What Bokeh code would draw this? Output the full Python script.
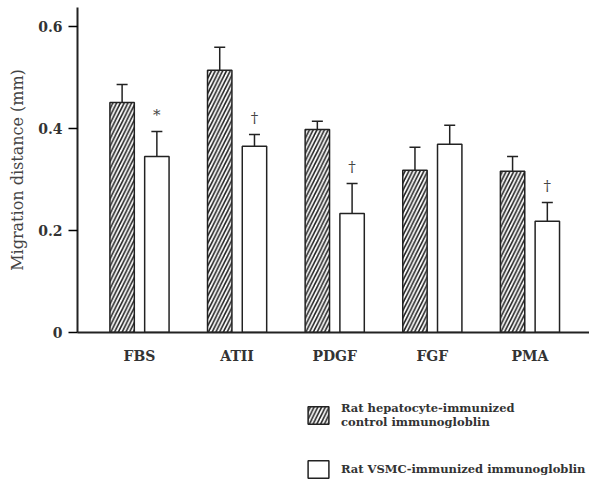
from bokeh.plotting import figure
from bokeh.layouts import column
from bokeh.models import (ColumnDataSource, Whisker, TeeHead, FixedTicker, Legend, LegendItem, Range1d)
from bokeh.core.properties import value
from bokeh.embed import file_html
from bokeh.resources import INLINE

categories = ["FBS", "ATII", "PDGF", "FGF", "PMA"]
control_mean = [0.451, 0.514, 0.398, 0.318, 0.316]
control_err = [0.486, 0.559, 0.414, 0.363, 0.345]
vsmc_mean = [0.345, 0.365, 0.233, 0.369, 0.218]
vsmc_err = [0.394, 0.388, 0.292, 0.406, 0.255]
marks = ["*", "\u2020", "\u2020", "", "\u2020"]
y_ticks = [0, 0.2, 0.4, 0.6]
y_tick_labels = ["0", "0.2", "0.4", "0.6"]
legend_labels = ["Rat hepatocyte-immunized\ncontrol immunogloblin",
                 "Rat VSMC-immunized immunogloblin"]

OFF = 0.178
W = 0.25
INK = "#222222"
idx = list(range(len(categories)))
src_c = ColumnDataSource(dict(x=[i - OFF for i in idx], top=control_mean, up=control_err))
src_v = ColumnDataSource(dict(x=[i + OFF for i in idx], top=vsmc_mean, up=vsmc_err, m=marks,
                              my=[u + 0.014 for u in vsmc_err]))

SERIF = "DejaVu Serif"
HATCH = dict(hatch_pattern="right_diagonal_line", hatch_color=INK, hatch_scale=7.5, hatch_weight=1.6)

p = figure(width=589, height=372, output_backend="svg", toolbar_location=None,
           x_range=Range1d(-0.635, 4.61), y_range=Range1d(0, 0.637),
           min_border_left=77, min_border_right=0, min_border_top=7, min_border_bottom=40)
p.outline_line_color = None
p.grid.visible = False

p.vbar(x="x", top="top", width=W, bottom=0, source=src_c, fill_color="white",
       line_color=INK, line_width=1.5, **HATCH)
p.vbar(x="x", top="top", width=W, bottom=0, source=src_v, fill_color="white",
       line_color=INK, line_width=1.5)

for src in (src_c, src_v):
    w = Whisker(source=src, base="x", lower="top", upper="up", line_color=INK, line_width=1.5,
                upper_head=TeeHead(size=11, line_color=INK, line_width=1.5), lower_head=None)
    p.add_layout(w)

p.text(x="x", y="my", text="m", source=src_v, text_font=value(SERIF), text_font_size="15px",
       text_align="center", text_baseline="bottom", text_color="#444444")

p.yaxis.ticker = FixedTicker(ticks=y_ticks)
p.yaxis.major_label_overrides = {t: l for t, l in zip(y_ticks, y_tick_labels)}
p.yaxis.major_label_text_font = SERIF
p.yaxis.major_label_text_font_style = "bold"
p.yaxis.major_label_text_font_size = "14px"
p.yaxis.major_label_text_color = "#333333"
p.yaxis.major_tick_in = 0
p.yaxis.major_tick_out = 9
p.yaxis.major_tick_line_width = 1.5
p.yaxis.minor_tick_line_color = None
p.yaxis.axis_line_width = 2
p.yaxis.axis_line_color = INK
p.yaxis.axis_label = "Migration distance (mm)"
p.yaxis.axis_label_text_font = SERIF
p.yaxis.axis_label_text_font_style = "normal"
p.yaxis.axis_label_text_font_size = "16px"
p.yaxis.axis_label_text_color = "#444444"
p.yaxis.axis_label_standoff = 8
p.yaxis.major_label_standoff = 6

p.xaxis.ticker = FixedTicker(ticks=idx)
p.xaxis.major_label_overrides = {i: c for i, c in zip(idx, categories)}
p.xaxis.major_label_text_font = SERIF
p.xaxis.major_label_text_font_style = "bold"
p.xaxis.major_label_text_font_size = "14px"
p.xaxis.major_label_text_color = "#333333"
p.xaxis.major_tick_line_color = None
p.xaxis.minor_tick_line_color = None
p.xaxis.axis_line_width = 2
p.xaxis.axis_line_color = INK
p.xaxis.major_label_standoff = 9

# legend panel below the chart (its glyph renderers are hidden; only legend swatches show)
p2 = figure(width=589, height=116, output_backend="svg", toolbar_location=None,
            x_range=Range1d(-0.635, 4.61), y_range=Range1d(0, 1), min_border=0)
p2.outline_line_color = None
p2.grid.visible = False
p2.axis.visible = False
lc = p2.vbar(x="x", top="top", width=W, bottom=0, source=src_c, fill_color="white",
             line_color=INK, line_width=1.5, visible=False, **HATCH)
lv = p2.vbar(x="x", top="top", width=W, bottom=0, source=src_v,
             fill_color="white", line_color=INK, line_width=1.5, visible=False)
legend = Legend(items=[LegendItem(label=legend_labels[0], renderers=[lc]),
                       LegendItem(label=legend_labels[1], renderers=[lv])],
                location=(228, 8))
legend.padding = 0
legend.margin = 0
legend.border_line_color = None
legend.background_fill_alpha = 0
legend.glyph_width = 26
legend.glyph_height = 22
legend.label_standoff = 10
legend.spacing = 29
legend.label_text_font = SERIF
legend.label_text_font_style = "bold"
legend.label_text_font_size = "11.5px"
legend.label_text_color = "#333333"
legend.label_text_line_height = 1.3
p2.add_layout(legend)

open("out.html", "w").write(file_html(column(p, p2, spacing=0), INLINE))
